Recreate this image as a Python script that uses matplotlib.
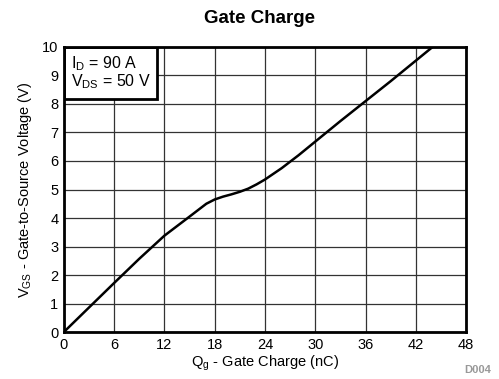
import matplotlib
matplotlib.use('Agg')
import matplotlib.pyplot as plt
from matplotlib.patches import Rectangle

plt.rcParams['font.family'] = ['Liberation Sans', 'DejaVu Sans']

# gate charge curve
QG = [0, 3, 6, 9, 12, 15, 17, 18, 19, 20, 21, 22, 23, 24, 26, 28, 30, 33, 36, 39, 42, 44]
VGS = [0, 0.86, 1.72, 2.57, 3.38, 4.05, 4.5, 4.65, 4.75, 4.83, 4.92, 5.03, 5.18, 5.35,
       5.75, 6.2, 6.68, 7.4, 8.1, 8.8, 9.52, 10.0]
X_TICKS = [0, 6, 12, 18, 24, 30, 36, 42, 48]
Y_TICKS = list(range(0, 11))

fig = plt.figure(figsize=(4.99, 3.79), dpi=100)
ax = fig.add_axes([0.128, 0.124, 0.806, 0.752])

ax.plot(QG, VGS, color='black', linewidth=1.8, zorder=3)
ax.set_xlim(0, 48)
ax.set_ylim(0, 10)
ax.set_xticks(X_TICKS)
ax.set_yticks(Y_TICKS)
ax.grid(True, color='#333333', linewidth=0.9)
ax.tick_params(length=0, labelsize=10.5, pad=4)
for s in ax.spines.values():
    s.set_linewidth(2)
    s.set_zorder(5)

ax.set_xlabel('Q$_\\mathregular{g}$ - Gate Charge (nC)', fontsize=10.5, labelpad=1)
ax.set_ylabel('V$_\\mathregular{GS}$ - Gate-to-Source Voltage (V)', fontsize=10.5, labelpad=6)
fig.text(0.52, 0.95, 'Gate Charge', ha='center', va='center', fontsize=13.5, fontweight='bold')
fig.text(0.985, 0.025, 'D004', ha='right', va='center', fontsize=8, color='#999999',
         fontweight='bold')

# legend box stuck to the top-left corner
ax.add_patch(Rectangle((0, 0.818), 0.231, 0.182, transform=ax.transAxes,
                       facecolor='white', edgecolor='black', linewidth=2, zorder=4))
ax.text(0.018, 0.975, 'I$_\\mathregular{D}$ = 90 A\nV$_\\mathregular{DS}$ = 50 V',
        transform=ax.transAxes, fontsize=11.5, va='top', ha='left', linespacing=0.95,
        zorder=6)

fig.savefig('out.png', dpi=100)
